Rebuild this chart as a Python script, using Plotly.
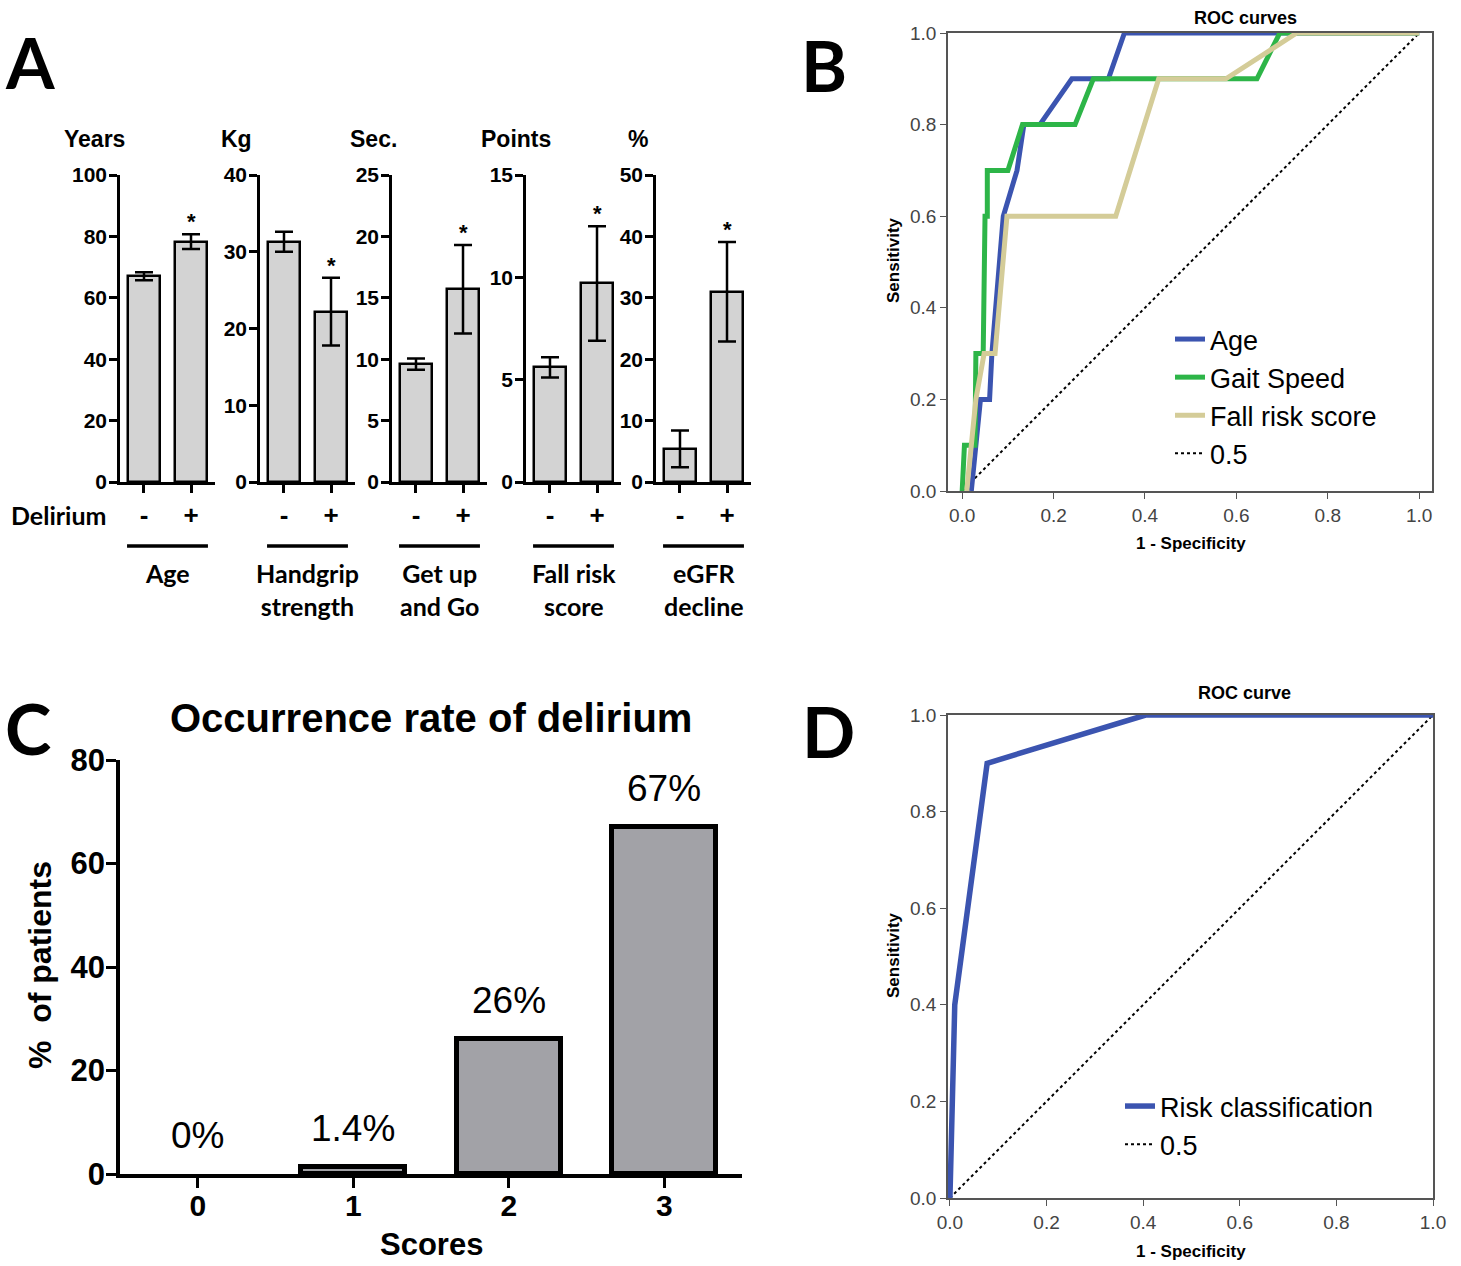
import plotly.graph_objects as go

W, H = 1461, 1266
def px(x): return x / W
def py(y): return 1 - y / H

ARIAL = "Liberation Sans, Arial, sans-serif"
CAL = "Lato, Open Sans, sans-serif"

# ---------------- Panel A data ----------------
a_units = ["Years", "Kg", "Sec.", "Points", "%"]
a_groups = ["Age", "Handgrip<br>strength", "Get up<br>and Go", "Fall risk<br>score", "eGFR<br>decline"]
a_delirium = ["-", "+"]
a_mean_neg = [67.0, 31.3, 9.6, 5.6, 5.4]
a_mean_pos = [78.3, 22.2, 15.7, 9.7, 31.0]
a_err_neg = [1.3, 1.3, 0.45, 0.5, 3.0]
a_err_pos = [2.4, 4.4, 3.6, 2.8, 8.1]
a_ymax = [100, 40, 25, 15, 50]
a_dtick = [20, 10, 5, 5, 10]

# ---------------- Panel B data ----------------
b_age_x = [0.02, 0.03, 0.04, 0.06, 0.065, 0.09, 0.12, 0.135, 0.17, 0.24, 0.32, 0.355, 1.0]
b_age_y = [0.0, 0.1, 0.2, 0.2, 0.3, 0.6, 0.7, 0.8, 0.8, 0.9, 0.9, 1.0, 1.0]
b_gait_x = [0.0, 0.005, 0.028, 0.03, 0.046, 0.05, 0.055, 0.055, 0.1, 0.132, 0.247, 0.287, 0.645, 0.695, 1.0]
b_gait_y = [0.0, 0.1, 0.1, 0.3, 0.3, 0.6, 0.6, 0.7, 0.7, 0.8, 0.8, 0.9, 0.9, 1.0, 1.0]
b_fall_x = [0.01, 0.02, 0.03, 0.048, 0.072, 0.098, 0.336, 0.43, 0.577, 0.732, 1.0]
b_fall_y = [0.0, 0.1, 0.2, 0.3, 0.3, 0.6, 0.6, 0.9, 0.9, 1.0, 1.0]
ref_x = [0.0, 1.0]
ref_y = [0.0, 1.0]

# ---------------- Panel C data ----------------
c_scores = [0, 1, 2, 3]
c_pct = [0.0, 1.4, 26.0, 67.0]
c_labels = ["0%", "1.4%", "26%", "67%"]

# ---------------- Panel D data ----------------
d_x = [0.0, 0.01, 0.077, 0.405, 1.0]
d_y = [0.0, 0.4, 0.9, 1.0, 1.0]

fig = go.Figure()
layout = {}
annotations = []
shapes = []

# ---- Panel A ----
a_axis_left = [120, 260, 392, 526, 656]
a_unit_cx = [94, 237, 373, 516, 638]
for i in range(5):
    n = i + 1
    xa, ya = f"x{n}", f"y{n}"
    x0 = a_axis_left[i]
    fig.add_trace(go.Bar(
        x=[0, 1], y=[a_mean_neg[i], a_mean_pos[i]], width=0.68,
        marker=dict(color="#d3d3d3", line=dict(color="black", width=2.5)),
        error_y=dict(type="data", array=[a_err_neg[i], a_err_pos[i]], color="black", thickness=2.5, width=9),
        xaxis=xa, yaxis=ya, showlegend=False, hoverinfo="skip"))
    layout[f"xaxis{n}"] = dict(
        domain=[px(x0), px(x0 + 95)], range=[-0.51, 1.51], anchor=ya, automargin=False,
        showline=True, linecolor="black", linewidth=2.5, showgrid=False, zeroline=False,
        ticks="outside", ticklen=8, tickwidth=2.5, tickcolor="black",
        tickvals=[0, 1], ticktext=a_delirium, ticklabelstandoff=0,
        tickfont=dict(family=ARIAL, size=26, color="black", weight="bold"))
    layout[f"yaxis{n}"] = dict(
        domain=[py(482), py(175)], range=[0, a_ymax[i]], dtick=a_dtick[i], anchor=xa, automargin=False,
        showline=True, linecolor="black", linewidth=2.5, showgrid=False, zeroline=False,
        ticks="outside", ticklen=8, tickwidth=2.5, tickcolor="black", ticklabelstandoff=-2,
        tickfont=dict(family=ARIAL, size=21, color="black", weight="bold"))
    annotations.append(dict(x=1, y=a_mean_pos[i] + a_err_pos[i], xref=xa, yref=ya, text="*",
                            showarrow=False, yanchor="bottom", yshift=-2,
                            font=dict(family=ARIAL, size=22, color="black", weight="bold")))
    annotations.append(dict(x=px(a_unit_cx[i]), y=py(139), xref="paper", yref="paper", text=a_units[i],
                            showarrow=False, xanchor="center", yanchor="middle",
                            font=dict(family=ARIAL, size=23, color="black", weight="bold")))
    shapes.append(dict(type="line", xref=xa, yref="paper", x0=-0.36, x1=1.36, y0=py(546), y1=py(546),
                       line=dict(color="black", width=3.5)))
    annotations.append(dict(x=0.5, xref=xa, y=py(556), yref="paper", text=a_groups[i], showarrow=False,
                            xanchor="center", yanchor="top",
                            font=dict(family=CAL, size=25, color="black", weight="bold")))

annotations.append(dict(x=px(58), y=py(515), xref="paper", yref="paper", text="Delirium", showarrow=False,
                        xanchor="center", yanchor="middle",
                        font=dict(family=CAL, size=25, color="black", weight="bold")))

# ---- Panel B ----
tick01 = [0, 0.2, 0.4, 0.6, 0.8, 1.0]
roc_axis = dict(showline=True, linecolor="#555", linewidth=1.5, mirror=True, showgrid=False, zeroline=False,
                ticks="outside", ticklen=6, tickwidth=1.2, tickcolor="#555", tickvals=tick01, automargin=False,
                tickformat=".1f", tickfont=dict(family=ARIAL, size=19, color="#444"))
fig.add_trace(go.Scatter(x=ref_x, y=ref_y, mode="lines", name="0.5", legendrank=4,
                         line=dict(color="black", width=2, dash="dot"), xaxis="x6", yaxis="y6", legend="legend"))
fig.add_trace(go.Scatter(x=b_age_x, y=b_age_y, mode="lines", name="Age", legendrank=1,
                         line=dict(color="#3b54b0", width=5), xaxis="x6", yaxis="y6", legend="legend"))
fig.add_trace(go.Scatter(x=b_gait_x, y=b_gait_y, mode="lines", name="Gait Speed", legendrank=2,
                         line=dict(color="#2db548", width=5), xaxis="x6", yaxis="y6", legend="legend"))
fig.add_trace(go.Scatter(x=b_fall_x, y=b_fall_y, mode="lines", name="Fall risk score", legendrank=3,
                         line=dict(color="#d4cc98", width=5), xaxis="x6", yaxis="y6", legend="legend"))
layout["xaxis6"] = dict(domain=[px(948), px(1432)], range=[-0.031, 1.028], anchor="y6", **roc_axis)
layout["yaxis6"] = dict(domain=[py(491), py(33)], range=[0, 1], anchor="x6", **roc_axis)

# ---- Panel D ----
fig.add_trace(go.Scatter(x=ref_x, y=ref_y, mode="lines", name="0.5", legendrank=2,
                         line=dict(color="black", width=2, dash="dot"), xaxis="x8", yaxis="y8", legend="legend2"))
fig.add_trace(go.Scatter(x=d_x, y=d_y, mode="lines", name="Risk classification", legendrank=1,
                         line=dict(color="#3b54b0", width=5.5), xaxis="x8", yaxis="y8", legend="legend2"))
layout["xaxis8"] = dict(domain=[px(948), px(1433)], range=[-0.004, 1.0], anchor="y8", **roc_axis)
layout["yaxis8"] = dict(domain=[py(1198), py(715)], range=[0, 1], anchor="x8", **roc_axis)

for (tx, cx, cy) in [("ROC curves", 1245, 18), ("ROC curve", 1244, 693)]:
    annotations.append(dict(x=px(cx), y=py(cy), xref="paper", yref="paper", text=tx, showarrow=False,
                            xanchor="center", yanchor="middle",
                            font=dict(family=ARIAL, size=18, color="black", weight="bold")))
for cy in [543, 1251]:
    annotations.append(dict(x=px(1191), y=py(cy), xref="paper", yref="paper", text="1 - Specificity",
                            showarrow=False, xanchor="center", yanchor="middle",
                            font=dict(family=ARIAL, size=17, color="black", weight="bold")))
for cy in [260, 955]:
    annotations.append(dict(x=px(893), y=py(cy), xref="paper", yref="paper", text="Sensitivity",
                            showarrow=False, xanchor="center", yanchor="middle", textangle=-90,
                            font=dict(family=ARIAL, size=17, color="black", weight="bold")))

# ---- Panel C ----
c_line_w = [0 if v == 0 else 5 for v in c_pct]
fig.add_trace(go.Bar(x=c_scores, y=c_pct, width=0.67,
                     marker=dict(color="#a2a2a7", line=dict(color="black", width=c_line_w)),
                     xaxis="x7", yaxis="y7", showlegend=False, hoverinfo="skip"))
layout["xaxis7"] = dict(domain=[px(120), px(742)], range=[-0.5, 3.5], anchor="y7", automargin=False,
                        showline=True, linecolor="black", linewidth=3.5, showgrid=False, zeroline=False,
                        ticks="outside", ticklen=10, tickwidth=3, tickcolor="black", tickvals=c_scores,
                        ticklabelstandoff=-8,
                        tickfont=dict(family=ARIAL, size=30, color="black", weight="bold"))
layout["yaxis7"] = dict(domain=[py(1174), py(760)], range=[0, 80], dtick=20, anchor="x7", automargin=False,
                        showline=True, linecolor="black", linewidth=3.5, showgrid=False, zeroline=False,
                        ticks="outside", ticklen=10, tickwidth=3, tickcolor="black", ticklabelstandoff=-5,
                        tickfont=dict(family=ARIAL, size=31, color="black", weight="bold"))
for s, v, lab in zip(c_scores, c_pct, c_labels):
    annotations.append(dict(x=s, y=v, xref="x7", yref="y7", text=lab, showarrow=False,
                            yanchor="bottom", yshift=16,
                            font=dict(family=ARIAL, size=37, color="black")))
annotations.append(dict(x=px(431), y=py(718), xref="paper", yref="paper", text="Occurrence rate of delirium",
                        showarrow=False, xanchor="center", yanchor="middle",
                        font=dict(family=ARIAL, size=40, color="black", weight="bold")))
annotations.append(dict(x=px(431), y=py(1244), xref="paper", yref="paper", text="Scores",
                        showarrow=False, xanchor="center", yanchor="middle", borderpad=0,
                        font=dict(family=ARIAL, size=31, color="black", weight="bold")))
annotations.append(dict(x=px(40), y=py(965), xref="paper", yref="paper", text="%  of patients",
                        showarrow=False, xanchor="center", yanchor="middle", textangle=-90,
                        font=dict(family=ARIAL, size=32, color="black", weight="bold")))

# ---- Panel letters ----
for letter, cx, cy in [("A", 30, 62), ("B", 824, 65), ("C", 28, 728), ("D", 829, 731)]:
    annotations.append(dict(x=px(cx), y=py(cy), xref="paper", yref="paper", text=letter, showarrow=False,
                            xanchor="center", yanchor="middle",
                            font=dict(family=CAL, size=70, color="black", weight="bold")))

fig.update_layout(
    width=W, height=H, margin=dict(l=0, r=0, t=0, b=0, pad=0, autoexpand=False),
    paper_bgcolor="white", plot_bgcolor="white",
    annotations=annotations, shapes=shapes, bargap=0,
    legend=dict(x=px(1170), y=py(315), xanchor="left", yanchor="top", bgcolor="rgba(0,0,0,0)",
                font=dict(family=ARIAL, size=27, color="black"), tracegroupgap=0, itemwidth=30),
    legend2=dict(x=px(1120), y=py(1082), xanchor="left", yanchor="top", bgcolor="rgba(0,0,0,0)",
                 font=dict(family=ARIAL, size=27, color="black"), tracegroupgap=0, itemwidth=30),
    **layout)

fig.write_html("out.html", config={"displayModeBar": False},
               post_script="document.body.style.margin='0';document.body.style.overflow='hidden';")
